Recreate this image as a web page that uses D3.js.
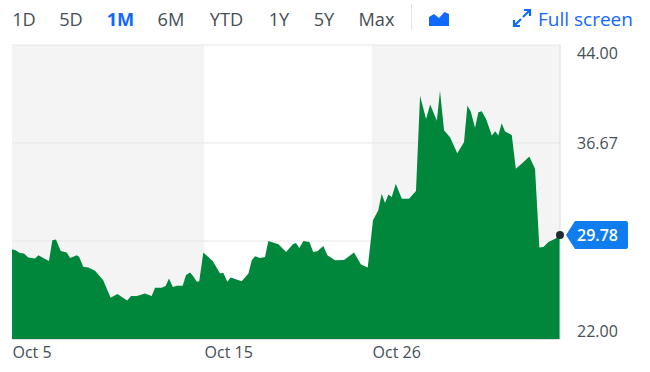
<!DOCTYPE html>
<html>
<head>
<meta charset="utf-8">
<script src="https://cdn.jsdelivr.net/npm/d3@7"></script>
<style>
  html, body { margin: 0; padding: 0; background: #fff; }
  svg { display: block; }
  text { font-family: "Open Sans", "Noto Sans", sans-serif; }
  .axis path, .axis line { display: none; }
  .axis text { font-family: "Open Sans", "Noto Sans", sans-serif; font-size: 16px; fill: #464e56; }
</style>
</head>
<body>
<div id="chart"></div>
<script>
const ranges = ["1D", "5D", "1M", "6M", "YTD", "1Y", "5Y", "Max"];
const rangeCenters = [24, 71, 120.5, 171, 226.5, 279, 324, 376.5];
const activeRange = "1M";

// sessions since Oct 5
const sessions = [0, 0.15, 0.33, 0.5, 0.68, 0.96, 1.1, 1.3, 1.54, 1.68, 1.83, 2.03, 2.28, 2.42, 2.7, 2.8, 2.97, 3.18, 3.46, 3.8,
  4.11, 4.39, 4.8, 4.96, 5.2, 5.54, 5.82, 5.96, 6.24, 6.4, 6.54, 6.7, 6.86, 7.11, 7.25, 7.42, 7.55, 7.7, 7.8, 7.97,
  8.36, 8.67, 8.8, 8.97, 9.11, 9.57, 9.85, 9.99, 10.13, 10.33, 10.54, 10.68, 11.1, 11.42, 11.7, 11.83, 11.97, 12.14, 12.39, 12.55,
  12.72, 12.97, 13.14, 13.46, 13.83, 14.25, 14.54, 14.82, 15.04, 15.26, 15.4, 15.54, 15.68, 15.82, 15.99, 16.24, 16.54, 16.83, 17.0, 17.25,
  17.42, 17.7, 17.83, 18.0, 18.25, 18.55, 18.83, 18.97, 19.11, 19.29, 19.43, 19.57, 19.75, 19.99, 20.13, 20.26, 20.4, 20.54, 20.82, 20.99,
  21.3, 21.55, 21.79, 21.97, 22.14, 22.35, 22.63, 22.83];
const prices = [28.72, 28.64, 28.44, 28.39, 28.1, 28.02, 28.27, 28.07, 27.84, 29.39, 29.44, 28.59, 28.47, 28.07, 28.27, 28.14, 27.4, 27.35, 27.1, 26.4,
  25.08, 25.36, 24.89, 25.21, 25.21, 25.41, 25.21, 25.83, 25.83, 25.96, 26.53, 25.9, 25.98, 25.98, 26.78, 26.98, 26.7, 26.28, 26.33, 28.47,
  27.84, 26.9, 26.95, 26.28, 26.6, 26.33, 26.9, 27.9, 28.19, 28.07, 28.14, 29.34, 29.09, 28.51, 29.09, 29.19, 28.81, 29.34, 29.26, 28.51,
  28.57, 28.96, 28.27, 27.9, 27.92, 28.47, 27.57, 27.35, 30.88, 31.63, 32.87, 32.17, 32.82, 32.62, 33.62, 32.5, 32.5, 33.07, 40.21, 38.47,
  39.54, 38.34, 40.58, 37.6, 37.1, 35.9, 36.72, 39.46, 39.04, 37.8, 38.96, 39.04, 38.47, 37.22, 37.54, 37.22, 38.14, 37.52, 37.27, 34.74,
  35.23, 35.66, 34.74, 28.84, 28.89, 29.26, 29.51, 29.78];

const xTickSessions = [0, 8, 15];
const xTickLabels = ["Oct 5", "Oct 15", "Oct 26"];
const yGrid = [29.33, 36.67, 44];
const yLabels = ["44.00", "36.67", "22.00"];
const yLabelValues = [44, 36.67, 22];
const lastPrice = 29.78;

const width = 650, height = 372;
const margin = { top: 45, right: 560, bottom: 339, left: 12 };
const blue = "#0f69ff", green = "#00873c", shade = "#f4f4f5", gridColor = "#e6e6e8";

const svg = d3.select("#chart").append("svg").attr("width", width).attr("height", height);

const x = d3.scaleLinear().domain([0, 22.83]).range([margin.left, margin.right]);
const y = d3.scaleLinear().domain([22, 44]).range([margin.bottom, margin.top]);

// toolbar
svg.selectAll("text.range")
  .data(ranges)
  .join("text")
  .attr("class", "range")
  .attr("x", (d, i) => rangeCenters[i])
  .attr("y", 25.7)
  .attr("text-anchor", "middle")
  .attr("font-size", 18.2)
  .attr("font-weight", (d) => (d === activeRange ? 700 : 400))
  .attr("fill", (d) => (d === activeRange ? blue : "#464e56"))
  .text((d) => d);

svg.append("line").attr("x1", 411.5).attr("x2", 411.5).attr("y1", 4).attr("y2", 30).attr("stroke", "#e3e3e6");

// mountain icon
svg.append("path")
  .attr("d", "M429,26V17L434,14L439,18L444.5,12L449,14V26Z")
  .attr("fill", blue);

// full screen arrows
const arrows = svg.append("g").attr("fill", "none").attr("stroke", blue).attr("stroke-width", 2.2);
arrows.append("path").attr("d", "M514,26L521,19M514,20V26H520");
arrows.append("path").attr("d", "M530,10L523,17M524,10H530V16");

svg.append("text").attr("x", 538).attr("y", 26).attr("font-size", 19).attr("fill", blue).text("Full screen");

// alternating day bands
svg.append("rect").attr("x", x(0)).attr("y", margin.top).attr("width", x(8) - x(0)).attr("height", margin.bottom - margin.top).attr("fill", shade);
svg.append("rect").attr("x", x(15)).attr("y", margin.top).attr("width", x(22.83) - x(15)).attr("height", margin.bottom - margin.top).attr("fill", shade);

svg.selectAll("line.grid")
  .data(yGrid)
  .join("line")
  .attr("class", "grid")
  .attr("x1", margin.left)
  .attr("x2", margin.right)
  .attr("y1", (d) => y(d))
  .attr("y2", (d) => y(d))
  .attr("stroke", gridColor);

const area = d3.area()
  .x((d, i) => x(sessions[i]))
  .y0(margin.bottom)
  .y1((d) => y(d));

svg.append("path").datum(prices).attr("d", area).attr("fill", green);

svg.append("line").attr("x1", margin.right).attr("x2", margin.right).attr("y1", margin.top).attr("y2", margin.bottom).attr("stroke", "#dcdce2");
svg.append("line").attr("x1", margin.left).attr("x2", margin.right).attr("y1", margin.bottom + 0.5).attr("y2", margin.bottom + 0.5).attr("stroke", "#dcdce2");

// axes
const xAxis = svg.append("g")
  .attr("class", "axis")
  .attr("transform", `translate(0, ${margin.bottom})`)
  .call(d3.axisBottom(x).tickValues(xTickSessions).tickFormat((d, i) => xTickLabels[i]).tickSize(0).tickPadding(8));
xAxis.selectAll("text").attr("text-anchor", "start");

const yAxis = svg.append("g")
  .attr("class", "axis")
  .attr("transform", `translate(${margin.right}, 0)`)
  .call(d3.axisRight(y).tickValues(yLabelValues).tickFormat((d, i) => yLabels[i]).tickSize(0).tickPadding(17));
// top and bottom labels sit inside the plot height
yAxis.selectAll("text").attr("dy", (d) => (d === 44 ? "0.85em" : d === 22 ? "-0.15em" : "0.32em"));

// last price tag
const tagY = y(lastPrice);
svg.append("path")
  .attr("d", `M566,${tagY}L575,${tagY - 14}H626a2,2 0 0 1 2,2V${tagY + 12}a2,2 0 0 1 -2,2H575Z`)
  .attr("fill", "#0f7cf0");
svg.append("text")
  .attr("x", 577)
  .attr("y", tagY + 6)
  .attr("font-size", 16)
  .attr("font-weight", 600)
  .attr("fill", "#fff")
  .text(lastPrice.toFixed(2));
svg.append("circle").attr("cx", x(22.83)).attr("cy", tagY).attr("r", 4).attr("fill", "#232a31");
</script>
</body>
</html>
